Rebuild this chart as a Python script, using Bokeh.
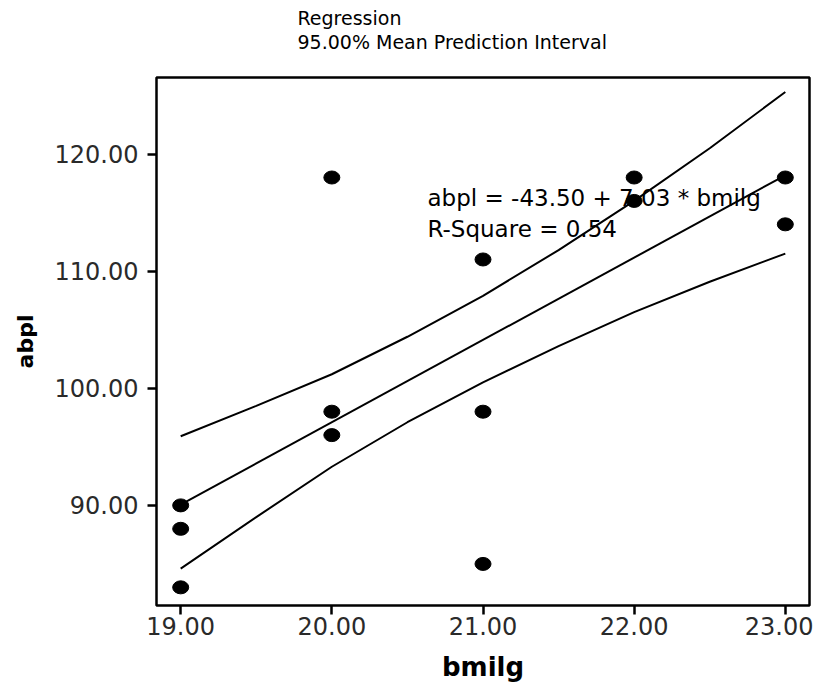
from bokeh.plotting import figure
from bokeh.models import Range1d, FixedTicker, NumeralTickFormatter, Label, Title
from bokeh.embed import file_html
from bokeh.resources import INLINE

# observed data
bmilg = [19, 19, 19, 20, 20, 20, 21, 21, 21, 22, 22, 23, 23]
abpl = [90, 88, 83, 118, 98, 96, 111, 98, 85, 118, 116, 118, 114]

# fitted line (abpl = -43.50 + 7.03 * bmilg), end values
fit_x = [19.0, 23.0]
fit_y = [90.07, 118.19]

# 95% mean prediction interval curves
band_x = [19.0, 19.5, 20.0, 20.5, 21.0, 21.5, 22.0, 22.5, 23.0]
band_upper = [95.9, 98.5, 101.2, 104.4, 107.9, 111.8, 116.0, 120.5, 125.3]
band_lower = [84.6, 89.0, 93.3, 97.1, 100.5, 103.6, 106.5, 109.1, 111.5]

x_ticks = [19, 20, 21, 22, 23]
y_ticks = [90, 100, 110, 120]

title_lines = ["Regression", "95.00% Mean Prediction Interval"]
eq_lines = ["abpl = -43.50 + 7.03 * bmilg", "R-Square = 0.54"]

FONT = "DejaVu Sans"

p = figure(frame_width=653, frame_height=528,
           min_border_left=156, min_border_right=4,
           min_border_top=77, min_border_bottom=79,
           x_range=Range1d(18.84, 23.16), y_range=Range1d(81.45, 126.54),
           output_backend="svg", toolbar_location=None)

p.background_fill_color = "white"
p.border_fill_color = "white"
p.grid.visible = False
p.outline_line_color = "black"
p.outline_line_width = 2.5
p.outline_line_alpha = 1.0

for ax in (p.xaxis[0], p.yaxis[0]):
    ax.axis_line_color = None
    ax.major_tick_line_color = "black"
    ax.major_tick_line_width = 2.5
    ax.major_tick_in = 0
    ax.major_tick_out = 9
    ax.minor_tick_line_color = None
    ax.major_label_text_font = FONT
    ax.major_label_text_font_size = "24px"
    ax.major_label_text_color = "#2a2a2a"
    ax.axis_label_text_font = FONT
    ax.axis_label_text_font_style = "bold"
    ax.axis_label_text_color = "black"
    ax.formatter = NumeralTickFormatter(format="0.00")

p.xaxis[0].ticker = FixedTicker(ticks=x_ticks)
p.yaxis[0].ticker = FixedTicker(ticks=y_ticks)
p.xaxis[0].axis_label = "bmilg"
p.yaxis[0].axis_label = "abpl"
p.xaxis[0].axis_label_text_font_size = "26px"
p.yaxis[0].axis_label_text_font_size = "22px"
p.xaxis[0].major_label_standoff = 2
p.yaxis[0].major_label_standoff = 9
p.xaxis[0].axis_label_standoff = 14
p.yaxis[0].axis_label_standoff = 14

# regression line and interval curves
p.line(fit_x, fit_y, line_color="black", line_width=2)
p.line(band_x, band_upper, line_color="black", line_width=2)
p.line(band_x, band_lower, line_color="black", line_width=2)

# points
p.ellipse(x=bmilg, y=abpl, width=16, height=13,
          width_units="screen", height_units="screen",
          fill_color="black", line_color="black")

# equation text (under the marks)
p.add_layout(Label(x=271, y=408, x_units="screen", y_units="screen",
                   text=eq_lines[0], text_font=FONT, text_font_size="23px",
                   text_color="black", text_baseline="middle", level="underlay"))
p.add_layout(Label(x=271, y=377, x_units="screen", y_units="screen",
                   text=eq_lines[1], text_font=FONT, text_font_size="23px",
                   text_color="black", text_baseline="middle", level="underlay"))

# titles above the frame (first added sits nearest the frame)
p.add_layout(Title(text=title_lines[1], align="left", offset=141,
                   text_font=FONT, text_font_size="19px", text_font_style="normal",
                   text_color="black", standoff=50), "above")
p.add_layout(Title(text=title_lines[0], align="left", offset=141,
                   text_font=FONT, text_font_size="19px", text_font_style="normal",
                   text_color="black", standoff=-51), "above")

open("out.html", "w").write(file_html(p, INLINE))
